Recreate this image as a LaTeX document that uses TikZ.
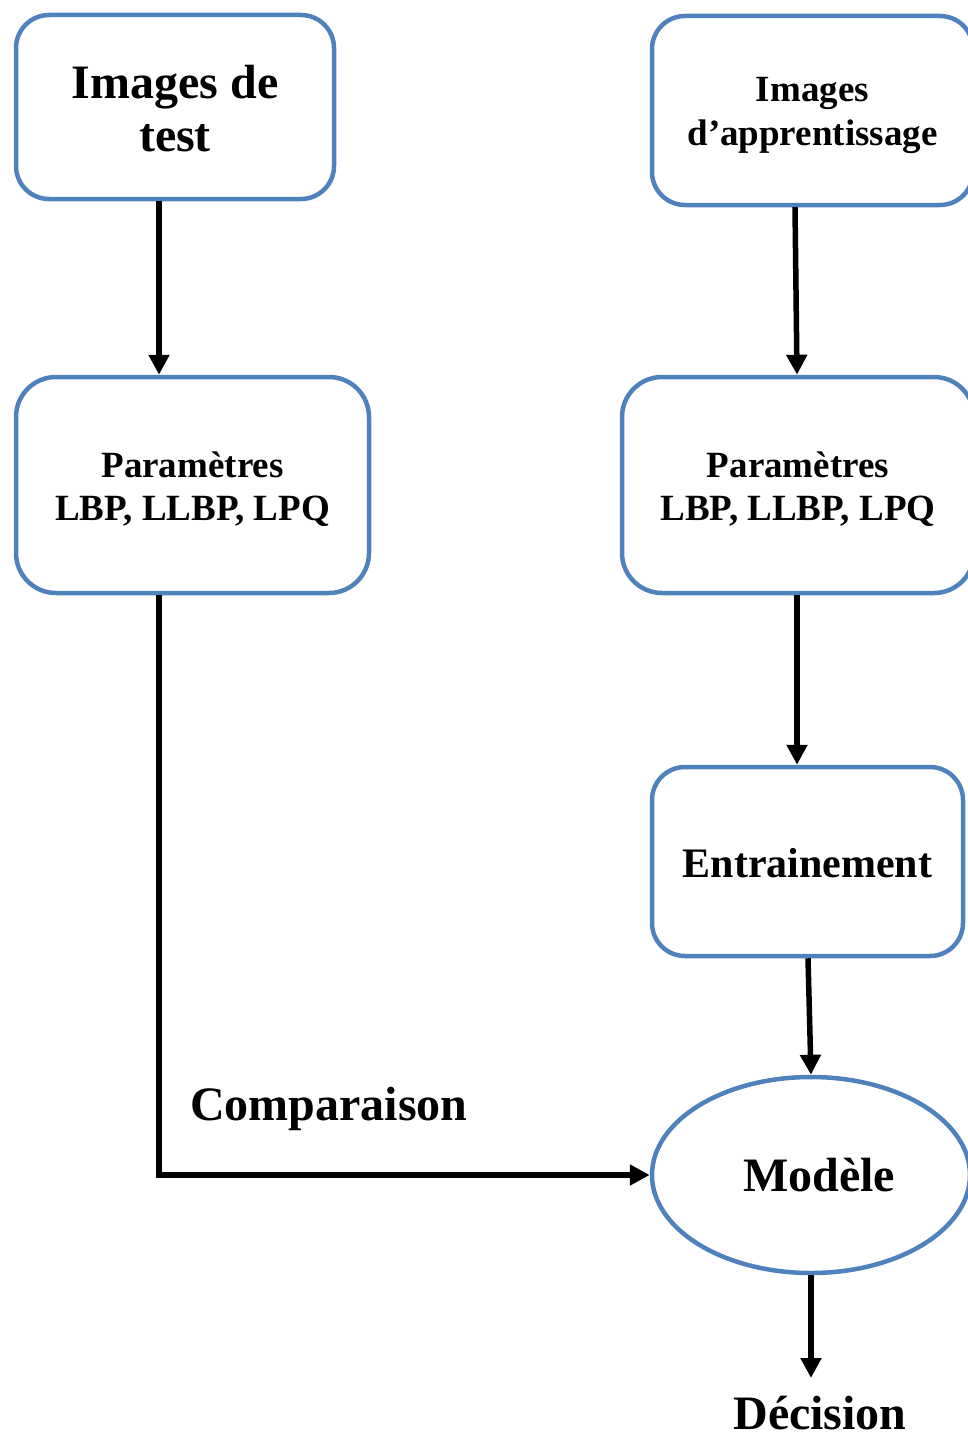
\documentclass[tikz,border=0pt]{standalone}
\usepackage{fontspec}
\setmainfont{Liberation Serif}
\usetikzlibrary{arrows.meta,shapes.geometric}
\definecolor{boxblue}{HTML}{4F81BD}
\begin{document}
\begin{tikzpicture}[x=1pt,y=-1pt,
  box/.style={draw=boxblue, line width=4.5pt, rectangle, inner sep=0pt, align=center, font=\bfseries},
  oval/.style={draw=boxblue, line width=4.5pt, ellipse, inner sep=0pt, align=center, font=\bfseries\fontsize{48}{53}\selectfont},
  arr/.style={line width=5.5pt, -{Triangle[width=20pt,length=20pt]}},
  lbl/.style={inner sep=0pt, font=\bfseries\fontsize{48}{53}\selectfont}
]
\useasboundingbox (0,0) rectangle (968,1437);
\node[box, minimum width=318pt, minimum height=184pt, rounded corners=33pt,
      font=\bfseries\fontsize{48}{53}\selectfont] (b1) at (175,107) {\rule{0pt}{37pt}Images de\\test};
\node[box, minimum width=321pt, minimum height=189pt, rounded corners=33pt,
      font=\bfseries\fontsize{37}{44}\selectfont] (b2) at (812.5,110.5) {\rule{0pt}{35pt}Images\\d’apprentissage};
\node[box, minimum width=353pt, minimum height=216pt, rounded corners=40pt,
      font=\bfseries\fontsize{37}{43}\selectfont] (b3) at (192.5,485) {\rule{0pt}{34pt}Paramètres\\LBP, LLBP, LPQ};
\node[box, minimum width=352pt, minimum height=216pt, rounded corners=40pt,
      font=\bfseries\fontsize{37}{43}\selectfont] (b4) at (798,485) {\rule{0pt}{34pt}Paramètres\\LBP, LLBP, LPQ};
\node[box, minimum width=311pt, minimum height=189pt, rounded corners=33pt,
      font=\bfseries\fontsize{42}{48}\selectfont] (b5) at (807.5,861.5) {\rule{0pt}{33pt}Entrainement};
\node[oval, minimum width=318pt, minimum height=196pt] (m) at (811,1175) {\hspace*{16pt}Modèle};
\node[lbl, anchor=base west] (cmp) at (190,1120) {Comparaison};
\node[lbl, anchor=base] (dec) at (820,1429) {Décision};
\coordinate (dtip) at (811,1378);

\draw[arr] (b1.south -| 159,0) -- (b3.north -| 159,0);
\draw[arr] (795,207) -- (b4.north -| 797,0);
\draw[arr] (b4.south -| 797,0) -- (b5.north -| 797,0);
\draw[arr] (b5.south -| 808,0) -- (m.north);
\draw[arr] (b3.south -| 159,0) -- (159,1175) -- (m.west);
\draw[arr] (m.south) -- (dtip);
\end{tikzpicture}
\end{document}
